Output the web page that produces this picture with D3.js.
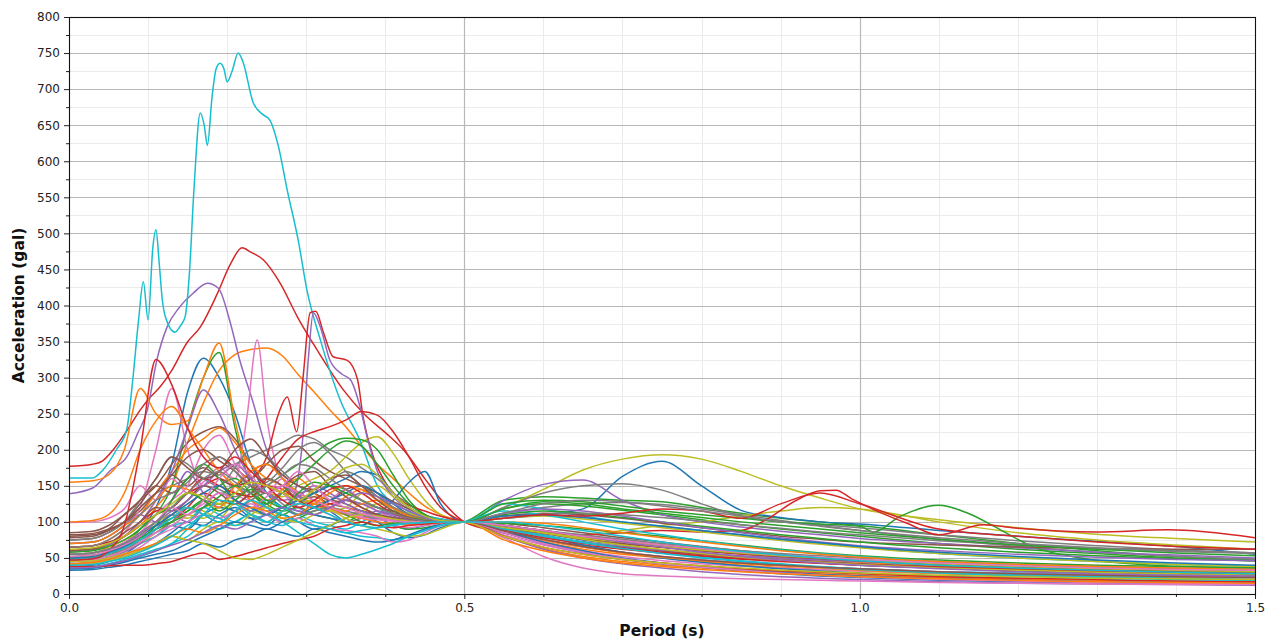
<!DOCTYPE html>
<html>
<head>
<meta charset="utf-8">
<script src="https://cdn.jsdelivr.net/npm/d3@7"></script>
<style>
  body { margin: 0; background: #fff; }
  text { font-family: "DejaVu Sans", sans-serif; }
</style>
</head>
<body>
<svg id="chart" width="1268" height="640"></svg>
<script>
// ---- Response spectra (acceleration in gal, normalised to 100 gal at T = 0.5 s) ----

// Shared period grid (s)
const periods = [0,0.03,0.05,0.07,0.09,0.11,0.13,0.15,0.17,0.19,0.21,0.23,0.25,0.27,0.29,0.31,0.33,0.35,0.37,0.39,0.41,0.43,0.45,0.47,0.5,0.55,0.6,0.65,0.7,0.75,0.8,0.85,0.9,0.95,1.0,1.1,1.2,1.3,1.4,1.5];

// Axis ticks
const yTicks = [0,50,100,150,200,250,300,350,400,450,500,550,600,650,700,750,800];
const xTicks = [0.0,0.5,1.0,1.5];
const xTickLabels = ["0.0","0.5","1.0","1.5"];

// Records sampled on their own periods
const cyanPeakT = [0,0.03,0.043,0.06,0.073,0.08,0.088,0.094,0.1,0.106,0.11,0.114,0.118,0.122,0.134,0.141,0.147,0.152,0.158,0.166,0.171,0.175,0.181,0.186,0.191,0.196,0.2,0.206,0.214,0.22,0.233,0.245,0.254,0.265,0.276,0.29,0.301,0.318,0.343,0.368,0.39,0.42,0.46,0.5,0.55,0.6,0.7,0.8,0.9,1.0,1.1,1.2,1.3,1.4,1.5];
const cyanPeakA = [161,161,172,200,228,290,380,433,380,480,505,460,408,384,363,372,385,440,560,667,650,622,690,728,736,728,710,724,750,738,681,665,657,620,560,490,421,352,269,213,150,120,104,100,88,75,58,47,40,35,31,29,27,26,25];

const redPeakT = [0,0.03,0.043,0.056,0.073,0.09,0.103,0.115,0.13,0.149,0.166,0.187,0.204,0.219,0.23,0.246,0.267,0.289,0.314,0.347,0.372,0.406,0.423,0.45,0.475,0.5,0.55,0.6,0.7,0.8,0.9,1.0,1.1,1.2,1.3,1.4,1.5];
const redPeakA = [177,180,185,200,226,255,273,287,310,348,370,415,457,480,474,463,431,384,338,283,251,218,200,160,125,100,85,75,62,52,45,40,36,33,30,28,27];

const purplePeakT = [0,0.03,0.053,0.073,0.087,0.099,0.111,0.124,0.14,0.157,0.175,0.189,0.204,0.216,0.233,0.25,0.27,0.3,0.33,0.36,0.4,0.45,0.5,0.55,0.6,0.7,0.8,0.9,1.0,1.1,1.2,1.3,1.4,1.5];
const purplePeakA = [139,147,172,190,223,255,324,370,398,417,431,424,376,324,265,200,160,130,120,110,112,105,100,90,80,65,55,48,42,38,35,32,30,28];

const pinkSpikeT = [0,0.03,0.05,0.07,0.09,0.11,0.13,0.15,0.17,0.19,0.21,0.225,0.238,0.25,0.265,0.28,0.3,0.33,0.36,0.4,0.45,0.5,0.55,0.6,0.65,0.7,0.8,0.9,1.0,1.1,1.2,1.3,1.4,1.5];
const pinkSpikeA = [99,100,105,118,150,130,160,140,155,175,160,245,352,245,170,150,135,120,110,105,100,100,85,70,60,52,42,36,32,29,27,25,24,23];

const redLateT = [0,0.03,0.05,0.07,0.09,0.11,0.13,0.15,0.17,0.19,0.21,0.23,0.25,0.265,0.276,0.288,0.296,0.305,0.312,0.322,0.334,0.352,0.365,0.372,0.385,0.4,0.42,0.45,0.5,0.55,0.6,0.7,0.8,0.9,1.0,1.1,1.2,1.3,1.4,1.5];
const redLateA = [60,62,70,80,100,115,120,140,150,160,150,160,190,250,273,225,300,390,392,362,329,324,297,245,190,155,130,115,100,95,85,70,60,52,47,43,40,37,35,33];

const purpleLateT = [0,0.03,0.05,0.07,0.09,0.11,0.13,0.15,0.17,0.19,0.21,0.23,0.25,0.27,0.285,0.296,0.303,0.309,0.318,0.33,0.345,0.356,0.368,0.377,0.39,0.41,0.44,0.47,0.5,0.55,0.6,0.65,0.7,0.75,0.8,0.85,0.9,0.95,1.0,1.1,1.2,1.3,1.4,1.5];
const purpleLateA = [70,72,80,95,110,100,130,170,140,120,150,130,115,120,140,220,330,390,370,324,305,297,260,218,170,135,112,102,100,130,152,158,130,110,100,93,87,82,77,70,64,58,54,50];

const greenLongT = [0,0.03,0.05,0.07,0.09,0.11,0.13,0.15,0.17,0.19,0.21,0.23,0.25,0.27,0.29,0.31,0.33,0.35,0.37,0.39,0.41,0.43,0.45,0.47,0.5,0.55,0.6,0.65,0.7,0.75,0.8,0.85,0.9,0.95,1.0,1.018,1.05,1.1,1.137,1.178,1.22,1.28,1.37,1.5];
const greenLongA = [48,50,55,65,80,95,105,115,130,150,160,140,120,110,125,140,150,145,130,120,115,110,105,102,100,125,130,128,122,115,110,105,100,97,94,86,107,123,112,89,65,50,40,36];

const redLongT = [0,0.03,0.05,0.07,0.09,0.11,0.13,0.15,0.17,0.19,0.21,0.23,0.25,0.27,0.29,0.31,0.33,0.35,0.37,0.39,0.41,0.43,0.45,0.47,0.5,0.55,0.6,0.65,0.7,0.75,0.8,0.85,0.88,0.92,0.95,0.97,0.99,1.02,1.06,1.1,1.157,1.2,1.3,1.39,1.5];
const redLongA = [50,52,58,65,75,90,100,120,140,130,125,140,150,145,130,120,125,130,120,110,105,102,100,100,100,95,85,82,85,88,86,88,102,130,143,144,132,116,98,82,96,91,86,89,78];

// Records sampled on the shared period grid
const rec00 = [45,47,58,70,90,120,180,280,327,300,250,180,140,120,110,125,115,100,95,105,95,90,95,98,100,95,85,75,68,60,55,50,46,43,40,36,32,30,28,26];
const rec01 = [55,57,65,80,95,120,150,210,265,310,332,339,341,330,304,280,255,232,205,180,160,140,122,110,100,85,72,62,55,50,45,40,37,34,32,28,25,23,21,20];
const rec02 = [50,52,60,70,90,110,150,232,300,335,230,150,125,115,120,110,105,100,110,100,95,90,92,96,100,130,135,133,130,128,120,112,105,100,95,82,70,60,52,48];
const rec05 = [80,82,90,110,130,150,180,210,225,232,215,180,150,140,130,135,125,120,115,110,105,100,98,98,100,98,92,85,78,72,66,60,55,50,46,40,36,33,30,28];
const rec07 = [70,72,80,95,120,140,150,160,170,165,180,190,200,210,220,215,200,190,175,160,140,125,110,104,100,112,120,125,127,124,118,110,102,95,88,76,66,58,52,48];
const rec08 = [60,62,65,75,85,100,110,105,120,125,115,130,140,135,150,160,170,190,210,218,195,160,130,110,100,120,145,172,187,193,187,170,150,133,118,103,92,83,77,72];

const rec10 = [40,42,48,55,70,80,95,90,110,120,115,105,110,120,115,110,105,100,95,110,130,155,170,125,100,105,110,118,163,184,150,116,106,100,97,88,80,73,66,55];
const rec11 = [155,157,165,200,285,250,235,240,300,348,240,160,130,140,135,125,118,110,105,110,105,100,98,98,100,95,88,80,72,65,60,55,50,47,44,40,37,34,32,30];
const rec12 = [55,57,62,70,80,95,100,115,130,125,140,135,150,165,180,195,210,216,214,200,165,130,110,102,100,118,125,122,116,110,103,96,90,85,80,70,62,56,50,46];
const rec15 = [75,77,85,100,115,140,165,150,170,190,175,160,180,200,205,185,170,160,150,140,128,118,108,102,100,90,80,72,65,60,55,51,48,45,42,38,35,32,30,28];
const rec16 = [60,62,70,85,120,200,285,200,150,170,140,130,150,140,120,130,115,110,105,100,95,92,95,98,100,88,75,65,58,52,47,43,40,37,35,31,28,26,24,23];
const rec17 = [50,52,58,65,80,95,110,130,150,145,135,150,160,150,140,145,135,130,125,120,115,110,105,102,100,120,140,150,153,144,125,108,100,96,92,82,74,67,61,57];
const rec18 = [55,57,62,70,85,100,110,120,115,105,125,115,110,120,130,125,115,120,140,150,135,120,108,102,100,90,85,82,88,95,100,108,115,120,118,100,85,75,68,62];
const rec19 = [45,47,52,60,70,80,95,100,120,110,100,115,130,120,110,100,95,90,100,110,115,112,108,104,100,125,118,108,100,94,88,82,76,70,65,56,50,45,41,38];

const rec20 = [38,40,45,52,60,70,85,100,95,110,120,105,95,110,100,90,95,105,115,100,85,78,82,92,100,92,80,68,58,50,44,39,35,32,29,25,22,20,18,17];
const rec21 = [65,67,75,90,110,140,170,200,215,230,210,180,160,150,130,125,120,135,145,130,120,110,104,101,100,88,75,65,57,51,46,42,39,36,33,29,26,24,22,20];
const rec24 = [60,62,68,80,100,130,170,230,283,250,200,160,140,150,135,120,110,100,105,115,110,104,100,100,100,90,80,72,66,61,57,53,50,47,45,41,38,36,34,32];
const rec25 = [82,84,90,100,125,150,140,160,175,160,150,170,180,165,150,140,130,145,150,135,120,110,104,101,100,108,112,110,105,98,92,86,80,76,72,68,65,63,62,62];
const rec26 = [55,57,62,72,85,110,130,150,200,220,180,150,140,160,130,120,130,145,130,115,105,100,98,99,100,82,68,57,48,42,37,33,30,27,25,22,20,18,17,16];
const rec27 = [75,77,85,100,130,160,190,180,160,150,175,200,190,170,150,140,155,170,160,140,120,108,102,100,100,95,88,80,73,67,62,57,53,50,47,42,38,35,33,31];
const rec28 = [50,52,55,60,70,85,100,110,105,120,130,110,100,115,125,130,120,110,115,125,120,112,106,102,100,105,108,104,98,92,86,80,74,69,64,56,50,45,41,38];
const rec29 = [35,36,40,45,52,60,70,80,95,90,100,110,100,95,105,95,90,85,80,78,75,80,88,95,100,92,82,72,64,57,51,46,42,38,35,30,27,24,22,20];

const rec30 = [33,34,37,40,45,50,55,60,70,65,75,80,90,85,80,90,85,80,75,72,75,82,90,96,100,88,72,60,50,43,37,32,28,25,23,19,17,15,14,13];
const rec31 = [100,102,110,140,200,240,260,230,200,170,150,130,120,145,160,140,120,110,105,100,98,96,97,99,100,80,63,52,45,40,36,33,30,28,26,23,21,19,18,17];
const rec32 = [45,47,52,60,75,95,130,160,180,160,130,120,110,100,105,115,120,110,100,95,98,100,100,100,100,98,95,90,85,80,74,68,62,57,53,47,43,40,38,36];
const rec33 = [65,67,72,80,95,110,120,140,160,150,140,135,160,190,215,225,232,241,253,248,225,190,150,120,100,88,78,70,64,58,53,49,46,43,41,37,34,32,30,29];
const rec34 = [42,44,50,58,70,90,110,100,120,140,130,115,125,140,120,110,120,130,125,115,108,103,100,100,100,80,62,50,42,36,31,27,24,22,20,17,15,14,13,12];
const rec35 = [60,62,70,85,100,120,115,130,150,140,125,140,160,150,130,120,130,125,115,110,106,103,101,100,100,92,84,76,70,65,60,56,52,49,46,41,37,34,32,30];
const rec36 = [40,42,48,55,65,80,90,100,110,105,115,125,110,100,105,95,90,88,85,80,72,75,85,95,100,78,52,36,28,25,23,21,20,19,18,16,15,14,13,13];
const rec37 = [48,50,55,62,75,85,100,120,110,100,115,130,140,125,110,115,120,115,110,105,102,100,100,100,100,95,88,82,76,70,65,60,56,53,50,45,41,38,36,34];
const rec38 = [40,42,46,52,60,70,80,75,90,100,95,110,120,105,100,110,115,105,95,90,85,80,82,90,100,95,85,76,68,62,56,51,47,44,41,36,33,30,28,26];
const rec39 = [37,38,42,48,55,62,70,90,110,105,95,100,110,100,85,70,55,50,55,62,70,80,88,95,100,115,110,100,90,82,74,67,61,56,52,45,40,36,33,31];

const rec40 = [35,36,40,44,50,55,60,70,80,90,100,95,90,100,110,120,130,140,150,140,125,110,102,100,100,85,70,58,49,42,37,33,30,27,25,21,19,17,16,15];
const rec41 = [70,72,80,95,110,130,150,145,130,120,150,170,180,160,140,130,120,115,125,130,120,110,104,101,100,100,98,92,85,78,72,66,60,55,51,45,41,38,36,34];
const rec42 = [52,54,58,66,78,90,100,110,120,135,150,140,125,140,160,180,200,212,205,180,150,125,110,102,100,110,115,112,106,100,94,88,82,77,72,64,58,53,49,46];
const rec43 = [38,38,39,40,40,42,45,52,57,48,52,58,64,70,75,80,90,95,100,95,92,95,97,99,100,80,65,55,48,43,39,35,32,30,28,24,22,20,18,17];
const rec44 = [55,57,62,70,85,100,115,130,150,170,180,160,140,130,135,150,140,125,115,108,104,102,101,100,100,112,118,115,108,100,92,85,78,72,67,60,55,51,48,46];
const rec45 = [78,80,88,100,120,140,165,190,200,185,170,150,140,150,165,170,150,135,120,110,104,101,100,100,100,95,88,80,74,68,63,58,54,50,47,42,38,35,33,31];
const rec46 = [45,47,52,60,72,85,95,110,125,140,130,120,135,150,140,130,120,112,106,103,101,100,100,100,100,85,70,58,49,42,37,33,29,26,24,20,18,16,15,14];
const rec47 = [65,67,75,90,110,130,140,155,180,190,170,150,155,175,200,210,195,170,150,135,120,110,104,101,100,105,110,112,110,106,101,96,91,86,82,74,68,63,59,56];
const rec48 = [45,46,50,56,62,70,80,75,70,60,50,48,55,65,75,85,95,105,110,108,104,101,100,100,100,92,85,78,72,66,61,57,53,50,47,42,38,35,33,31];
const rec49 = [48,50,56,64,75,90,105,120,110,100,115,130,120,110,100,95,90,85,88,92,96,98,99,100,100,90,80,71,63,56,50,45,41,37,34,29,25,22,20,19];

const rec50 = [50,52,58,66,80,95,110,125,140,150,130,120,110,120,130,140,150,160,170,165,140,120,108,102,100,108,110,106,100,94,88,82,76,71,66,58,52,47,43,40];
const rec51 = [42,44,48,55,62,70,80,90,85,95,110,120,115,105,110,125,140,150,145,130,118,108,102,100,100,75,60,50,43,38,34,31,28,26,24,21,19,17,16,15];
const rec52 = [58,60,66,75,90,110,120,140,130,115,130,145,130,120,140,155,150,140,130,120,112,106,102,100,100,118,128,125,118,112,106,100,95,90,85,76,68,62,57,53];
const rec53 = [47,49,60,95,200,325,290,230,190,175,190,170,150,130,120,130,145,150,140,125,112,105,101,100,100,105,110,108,112,118,115,105,125,140,125,90,80,72,66,62];
const rec54 = [36,37,41,46,53,60,68,75,85,95,90,100,110,120,115,110,120,130,140,135,125,115,106,101,100,95,88,80,72,65,58,52,47,43,40,35,31,28,26,25];
const rec55 = [85,87,95,110,130,160,190,175,160,170,200,215,190,165,150,145,160,165,150,130,115,106,101,100,100,88,76,66,58,52,47,43,40,37,35,31,28,26,24,23];
const rec56 = [52,54,60,68,80,100,120,110,130,160,180,165,140,150,170,150,130,120,112,106,102,100,100,100,100,95,88,80,74,68,63,58,54,51,48,43,39,36,34,33];
const rec57 = [55,57,62,70,82,100,120,140,160,170,155,140,150,165,180,175,160,145,130,120,112,105,101,100,100,112,125,130,128,122,115,108,100,94,88,78,70,64,60,57];
const rec58 = [62,64,70,80,95,110,125,140,135,125,140,155,150,140,130,145,160,175,180,165,140,120,108,102,100,80,65,55,48,43,39,36,33,31,29,26,24,22,21,20];
const rec59 = [40,41,45,50,58,68,80,95,110,130,125,110,100,115,125,120,110,100,95,92,95,98,99,100,100,100,95,88,80,72,65,59,54,50,46,40,36,33,30,28];

// Draw order; colours follow the category-10 cycle by position
const spectra = [
  [periods, rec00], [periods, rec01], [periods, rec02], [redPeakT, redPeakA], [purplePeakT, purplePeakA],
  [periods, rec05], [pinkSpikeT, pinkSpikeA], [periods, rec07], [periods, rec08], [cyanPeakT, cyanPeakA],
  [periods, rec10], [periods, rec11], [periods, rec12], [redLateT, redLateA], [purpleLateT, purpleLateA],
  [periods, rec15], [periods, rec16], [periods, rec17], [periods, rec18], [periods, rec19],
  [periods, rec20], [periods, rec21], [greenLongT, greenLongA], [redLongT, redLongA], [periods, rec24],
  [periods, rec25], [periods, rec26], [periods, rec27], [periods, rec28], [periods, rec29],
  [periods, rec30], [periods, rec31], [periods, rec32], [periods, rec33], [periods, rec34],
  [periods, rec35], [periods, rec36], [periods, rec37], [periods, rec38], [periods, rec39],
  [periods, rec40], [periods, rec41], [periods, rec42], [periods, rec43], [periods, rec44],
  [periods, rec45], [periods, rec46], [periods, rec47], [periods, rec48], [periods, rec49],
  [periods, rec50], [periods, rec51], [periods, rec52], [periods, rec53], [periods, rec54],
  [periods, rec55], [periods, rec56], [periods, rec57], [periods, rec58], [periods, rec59]
].map(([t, a]) => t.map((p, i) => [p, a[i]]));

// ---- Layout ----
const svg = d3.select("#chart");
const plot = { left: 69, right: 1255, top: 17, bottom: 594 };

const x = d3.scaleLinear().domain([0, 1.5]).range([plot.left, plot.right]);
const y = d3.scaleLinear().domain([0, 800]).range([plot.bottom, plot.top]);

const grid = svg.append("g");
// minor grid
const yMinor = d3.range(25, 800, 50);
const xMinor = d3.range(0.1, 1.5, 0.1).filter(v => Math.abs(v * 2 - Math.round(v * 2)) > 1e-6);
grid.selectAll("line.ymin").data(yMinor).join("line")
  .attr("x1", plot.left).attr("x2", plot.right)
  .attr("y1", d => Math.round(y(d)) + 0.5).attr("y2", d => Math.round(y(d)) + 0.5)
  .attr("stroke", "#ebebeb").attr("stroke-width", 1);
grid.selectAll("line.xmin").data(xMinor).join("line")
  .attr("y1", plot.top).attr("y2", plot.bottom)
  .attr("x1", d => Math.round(x(d)) + 0.5).attr("x2", d => Math.round(x(d)) + 0.5)
  .attr("stroke", "#ebebeb").attr("stroke-width", 1);
// major grid
grid.selectAll("line.ymaj").data(yTicks.slice(1, -1)).join("line")
  .attr("x1", plot.left).attr("x2", plot.right)
  .attr("y1", d => Math.round(y(d)) + 0.5).attr("y2", d => Math.round(y(d)) + 0.5)
  .attr("stroke", "#b8b8b8").attr("stroke-width", 1.2);
grid.selectAll("line.xmaj").data(xTicks.slice(1, -1)).join("line")
  .attr("y1", plot.top).attr("y2", plot.bottom)
  .attr("x1", d => Math.round(x(d)) + 0.5).attr("x2", d => Math.round(x(d)) + 0.5)
  .attr("stroke", "#b8b8b8").attr("stroke-width", 1.2);

// spectra
const line = d3.line()
  .x(d => x(d[0]))
  .y(d => y(d[1]))
  .curve(d3.curveMonotoneX);

svg.append("g")
  .selectAll("path")
  .data(spectra)
  .join("path")
  .attr("d", line)
  .attr("fill", "none")
  .attr("stroke", (d, i) => d3.schemeCategory10[i % 10])
  .attr("stroke-width", 1.5)
  .attr("stroke-linejoin", "round");

// axes
const yAxis = svg.append("g")
  .attr("transform", `translate(${plot.left},0)`)
  .call(d3.axisLeft(y).tickValues(yTicks).tickFormat(d3.format("d")).tickSize(5).tickPadding(4).tickSizeOuter(0));
const yAxisMinor = svg.append("g")
  .attr("transform", `translate(${plot.left},0)`)
  .call(d3.axisLeft(y).tickValues(yMinor).tickFormat("").tickSize(3).tickSizeOuter(0));
const xAxis = svg.append("g")
  .attr("transform", `translate(0,${plot.bottom})`)
  .call(d3.axisBottom(x).tickValues(xTicks).tickFormat((d, i) => xTickLabels[i]).tickSize(5).tickPadding(4).tickSizeOuter(0));
const xAxisMinor = svg.append("g")
  .attr("transform", `translate(0,${plot.bottom})`)
  .call(d3.axisBottom(x).tickValues(xMinor).tickFormat("").tickSize(3).tickSizeOuter(0));

[yAxis, yAxisMinor, xAxis, xAxisMinor].forEach(g => {
  g.select(".domain").remove();
  g.selectAll("line").attr("stroke", "#222").attr("stroke-width", 1);
  g.selectAll("text").attr("fill", "#222").style("font-size", "12px").style("font-family", "DejaVu Sans, sans-serif");
});

// frame
svg.append("rect")
  .attr("x", plot.left + 0.5).attr("y", plot.top + 0.5)
  .attr("width", plot.right - plot.left).attr("height", plot.bottom - plot.top)
  .attr("fill", "none").attr("stroke", "#111").attr("stroke-width", 1.1);

// axis titles
svg.append("text")
  .attr("x", (plot.left + plot.right) / 2).attr("y", 636)
  .attr("text-anchor", "middle")
  .style("font-size", "15.5px").style("font-weight", "bold").attr("fill", "#111")
  .text("Period (s)");
svg.append("text")
  .attr("transform", `translate(24,${(plot.top + plot.bottom) / 2}) rotate(-90)`)
  .attr("text-anchor", "middle")
  .style("font-size", "15.5px").style("font-weight", "bold").attr("fill", "#111")
  .text("Acceleration (gal)");
</script>
</body>
</html>
